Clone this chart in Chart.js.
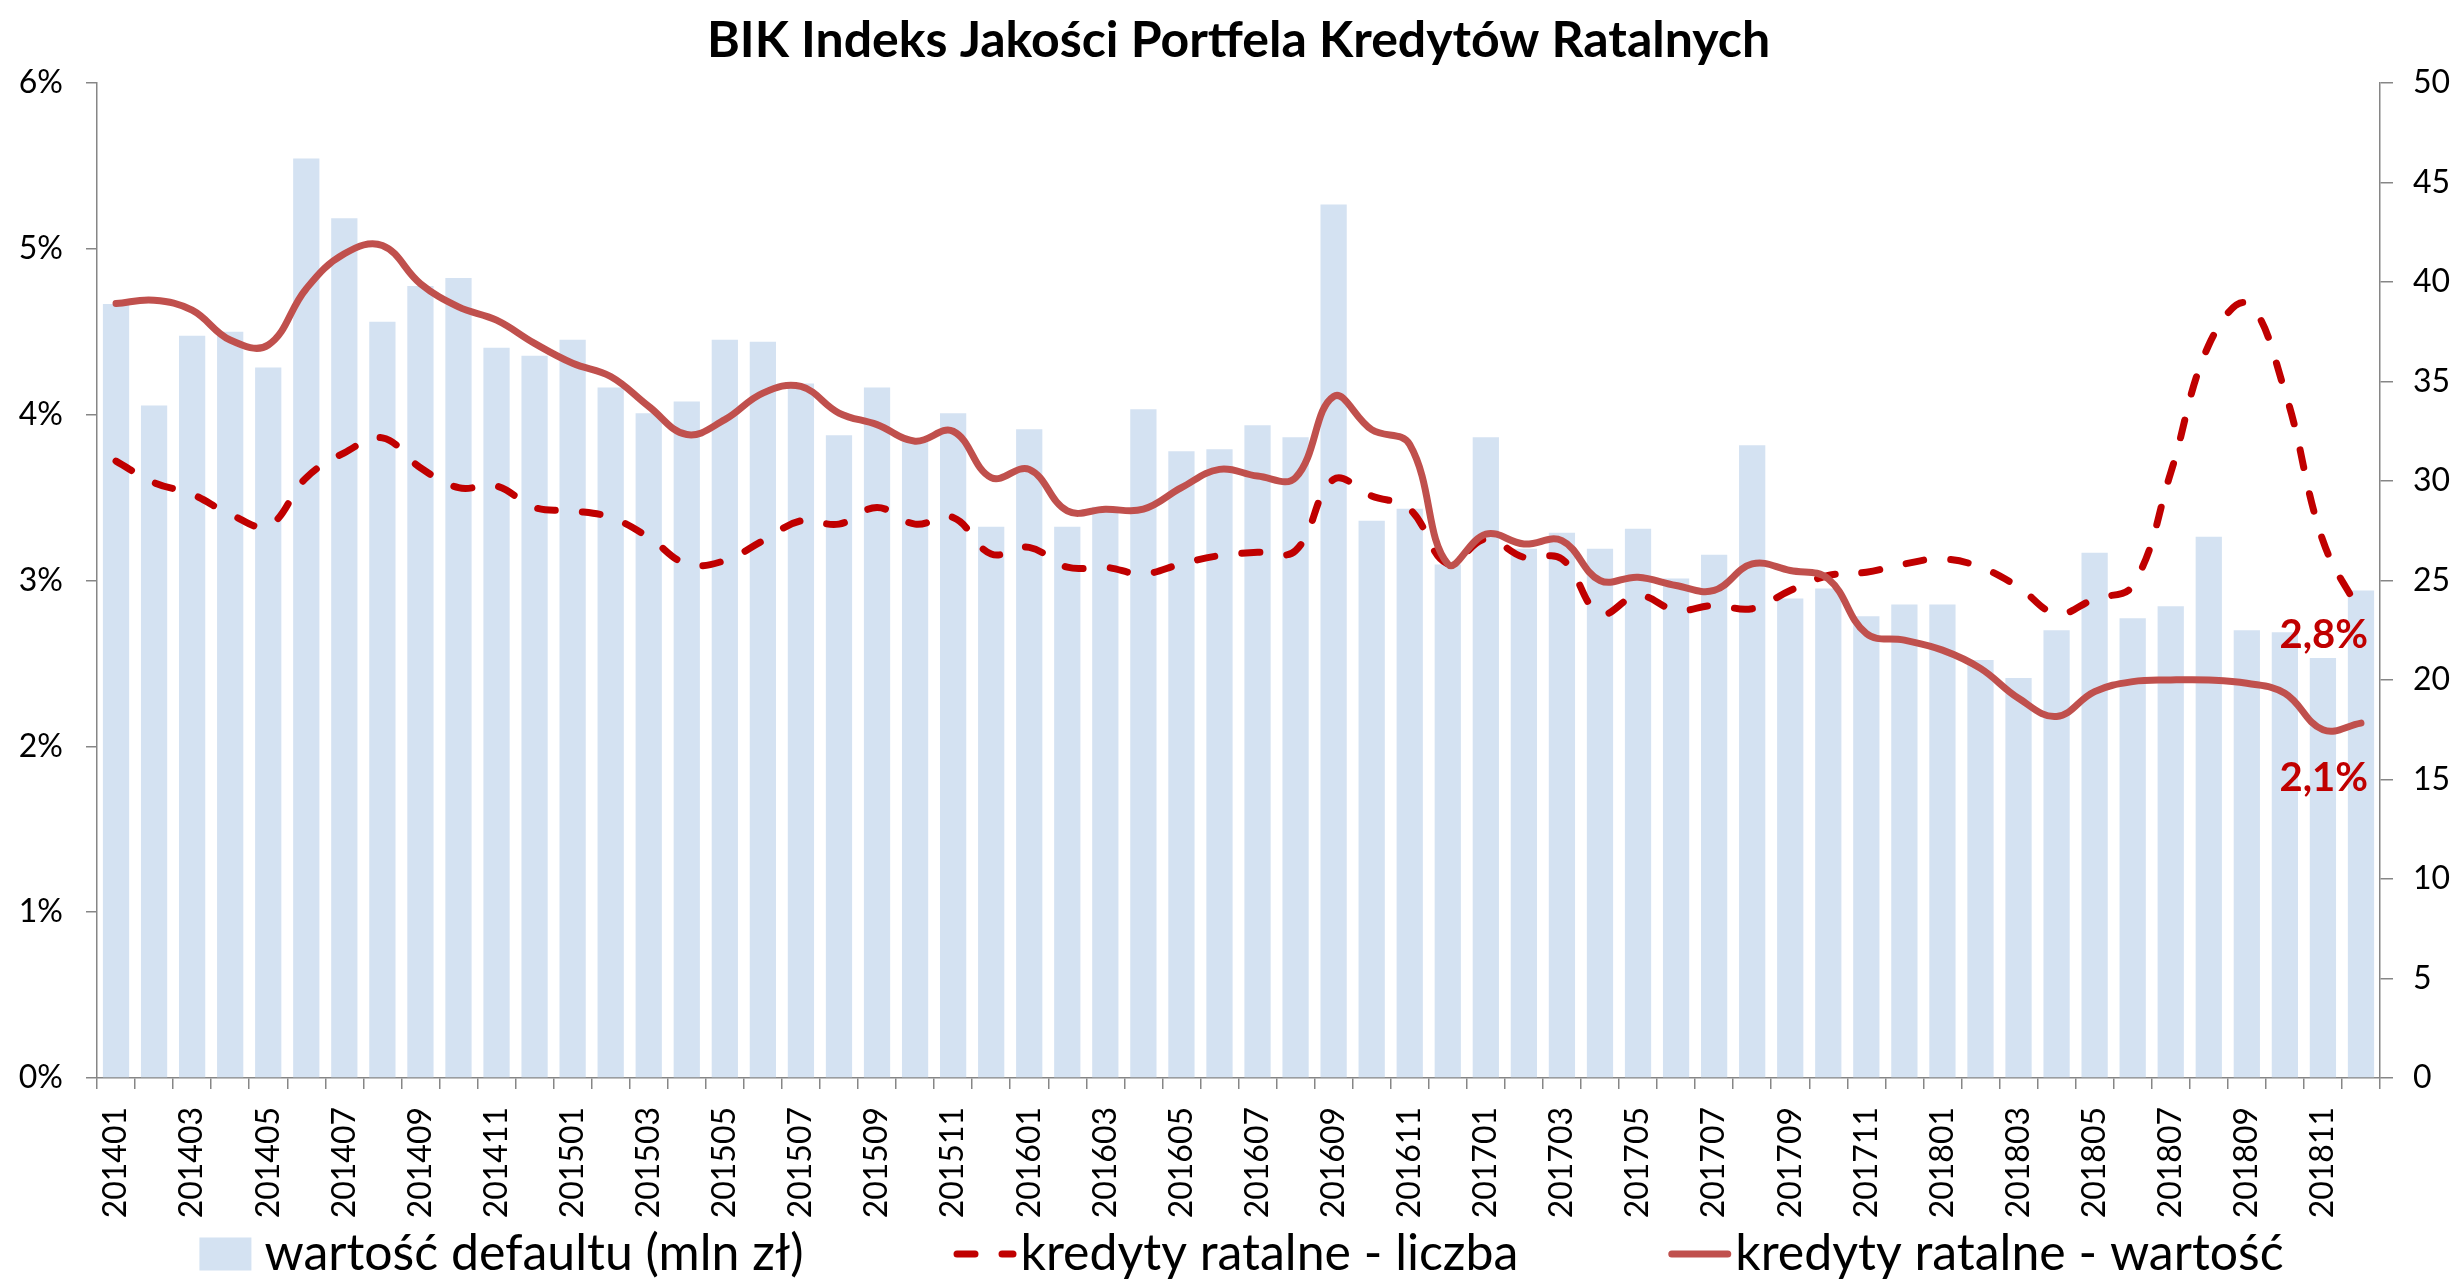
<!DOCTYPE html>
<html>
<head>
<meta charset="utf-8">
<script src="https://cdn.jsdelivr.net/npm/chart.js@4.4.1/dist/chart.umd.min.js"></script>
<style>
html,body{margin:0;padding:0;background:#fff;overflow:hidden}
canvas{display:block}
</style>
</head>
<body>
<canvas id="c" width="2461" height="1281"></canvas>
<script>
const titleText = 'BIK Indeks Jakości Portfela Kredytów Ratalnych';
const seriesNames = ['wartość defaultu (mln zł)', 'kredyty ratalne - liczba', 'kredyty ratalne - wartość'];

const categories = [
  '201401','201402','201403','201404','201405','201406','201407','201408','201409','201410','201411','201412',
  '201501','201502','201503','201504','201505','201506','201507','201508','201509','201510','201511','201512',
  '201601','201602','201603','201604','201605','201606','201607','201608','201609','201610','201611','201612',
  '201701','201702','201703','201704','201705','201706','201707','201708','201709','201710','201711','201712',
  '201801','201802','201803','201804','201805','201806','201807','201808','201809','201810','201811','201812'
];

// wartość defaultu (mln zł) – right axis
const defaultValue = [
  38.9, 33.8, 37.3, 37.5, 35.7, 46.2, 43.2, 38.0, 39.8, 40.2, 36.7, 36.3,
  37.1, 34.7, 33.4, 34.0, 37.1, 37.0, 34.9, 32.3, 34.7, 32.0, 33.4, 27.7,
  32.6, 27.7, 28.7, 33.6, 31.5, 31.6, 32.8, 32.2, 43.9, 28.0, 28.6, 25.8,
  32.2, 26.6, 27.4, 26.6, 27.6, 25.1, 26.3, 31.8, 24.1, 24.6, 23.2, 23.8,
  23.8, 21.0, 20.1, 22.5, 26.4, 23.1, 23.7, 27.2, 22.5, 22.4, 21.1, 24.5
];

// kredyty ratalne - liczba (%) – left axis
const countRate = [
  3.72, 3.59, 3.52, 3.40, 3.33, 3.62, 3.77, 3.86, 3.68, 3.56, 3.57, 3.44,
  3.42, 3.38, 3.26, 3.10, 3.12, 3.24, 3.36, 3.34, 3.44, 3.34, 3.38, 3.16,
  3.20, 3.08, 3.08, 3.04, 3.10, 3.15, 3.17, 3.18, 3.61, 3.51, 3.43, 3.10,
  3.25, 3.14, 3.13, 2.80, 2.91, 2.82, 2.85, 2.83, 2.94, 3.03, 3.05, 3.10,
  3.13, 3.08, 2.96, 2.80, 2.89, 2.97, 3.65, 4.42, 4.67, 4.14, 3.24, 2.80
];

// kredyty ratalne - wartość (%) – left axis
const amountRate = [
  4.67, 4.69, 4.63, 4.45, 4.42, 4.76, 4.97, 5.02, 4.79, 4.65, 4.57, 4.43,
  4.31, 4.23, 4.05, 3.88, 3.97, 4.13, 4.17, 4.01, 3.94, 3.84, 3.90, 3.62,
  3.67, 3.42, 3.43, 3.43, 3.56, 3.67, 3.63, 3.62, 4.11, 3.91, 3.82, 3.10,
  3.28, 3.22, 3.24, 3.00, 3.02, 2.97, 2.94, 3.10, 3.06, 3.01, 2.68, 2.64,
  2.58, 2.47, 2.29, 2.18, 2.33, 2.39, 2.40, 2.40, 2.38, 2.32, 2.10, 2.14
];

const leftTickMax = 6, leftTickStep = 1;
const rightTickMax = 50, rightTickStep = 5;

const FONT = 'Lato';
const AXIS_GRAY = '#868686';

// labels for the last value of the two line series
const endLabelPlugin = {
  id: 'endLabels',
  afterDatasetsDraw(chart) {
    const ctx = chart.ctx;
    chart.data.datasets.forEach((ds, i) => {
      if (!ds.endLabel) return;
      const meta = chart.getDatasetMeta(i);
      const pt = meta.data[meta.data.length - 1];
      const v = ds.data[ds.data.length - 1];
      ctx.save();
      ctx.font = 'bold 40px ' + FONT;
      ctx.fillStyle = '#C00000';
      ctx.textAlign = 'right';
      ctx.textBaseline = 'middle';
      ctx.fillText(v.toFixed(1).replace('.', ',') + '%', pt.x + ds.endLabel.dx, pt.y + ds.endLabel.dy);
      ctx.restore();
    });
  }
};

// Excel-like legend: symbols drawn from the datasets' own styles
const bottomLegendPlugin = {
  id: 'bottomLegend',
  afterDraw(chart, args, opts) {
    const ctx = chart.ctx;
    ctx.save();
    ctx.font = opts.fontSize + 'px ' + FONT;
    const items = chart.data.datasets.map((ds) => {
      const isBar = ds.type === 'bar';
      const symW = isBar ? opts.boxWidth : opts.lineWidth;
      const gap = isBar ? opts.boxGap : opts.lineGap;
      const textW = ctx.measureText(ds.label).width;
      return { ds, isBar, symW, gap, textW, w: symW + gap + textW };
    });
    const total = items.reduce((s, it) => s + it.w, 0) + opts.itemGap * (items.length - 1);
    const ca = chart.chartArea;
    let x = (ca.left + ca.right) / 2 + opts.shiftX - total / 2;
    const base = opts.baseline;
    const symY = base - opts.symbolRise;
    items.forEach((it) => {
      const ds = it.ds;
      if (it.isBar) {
        ctx.fillStyle = ds.backgroundColor;
        ctx.fillRect(x, symY - opts.boxHeight / 2, it.symW, opts.boxHeight);
      } else {
        ctx.save();
        ctx.beginPath();
        ctx.rect(x - 1, symY - 20, it.symW + 2, 40);
        ctx.clip();
        ctx.strokeStyle = ds.borderColor;
        ctx.lineWidth = ds.borderWidth;
        ctx.lineCap = ds.borderCapStyle || 'butt';
        ctx.setLineDash(ds.borderDash || []);
        ctx.beginPath();
        const cap = ds.borderCapStyle === 'round' ? ds.borderWidth / 2 : 0;
        ctx.moveTo(x + cap, symY);
        ctx.lineTo(x + it.symW - cap, symY);
        ctx.stroke();
        ctx.restore();
      }
      ctx.fillStyle = '#000';
      ctx.textAlign = 'left';
      ctx.textBaseline = 'alphabetic';
      ctx.fillText(ds.label, x + it.symW + it.gap, base);
      x += it.w + opts.itemGap;
    });
    ctx.restore();
  }
};

new Chart(document.getElementById('c'), {
  data: {
    labels: categories,
    datasets: [
      {
        type: 'bar',
        label: seriesNames[0],
        data: defaultValue,
        yAxisID: 'y2',
        backgroundColor: 'rgb(212,226,242)',
        borderWidth: 0,
        barPercentage: 0.69,
        categoryPercentage: 1.0,
        order: 3
      },
      {
        type: 'line',
        label: seriesNames[1],
        data: countRate,
        yAxisID: 'y',
        borderColor: '#C00000',
        backgroundColor: '#C00000',
        borderWidth: 7,
        borderDash: [18, 27],
        borderCapStyle: 'round',
        pointRadius: 0,
        pointHoverRadius: 0,
        tension: 0.4,
        fill: false,
        order: 2,
        endLabel: { dx: 7, dy: 21 }
      },
      {
        type: 'line',
        label: seriesNames[2],
        data: amountRate,
        yAxisID: 'y',
        borderColor: '#C0504D',
        backgroundColor: '#C0504D',
        borderWidth: 7,
        borderCapStyle: 'round',
        pointRadius: 0,
        pointHoverRadius: 0,
        tension: 0.4,
        fill: false,
        order: 1,
        endLabel: { dx: 7, dy: 55 }
      }
    ]
  },
  options: {
    responsive: false,
    animation: false,
    devicePixelRatio: 1,
    layout: { padding: { left: 0, right: 0, top: 0, bottom: 53 } },
    plugins: {
      title: {
        display: true,
        fullSize: false,
        text: titleText,
        color: '#000',
        font: { family: FONT, size: 50, weight: 'bold' },
        padding: { top: 11, bottom: 12 }
      },
      legend: { display: false },
      tooltip: { enabled: false },
      bottomLegend: {
        fontSize: 50,
        baseline: 1270,
        symbolRise: 16,
        boxWidth: 52,
        boxHeight: 33,
        boxGap: 13,
        lineWidth: 63,
        lineGap: 4,
        itemGap: 150,
        shiftX: 3
      }
    },
    scales: {
      x: {
        type: 'category',
        offset: true,
        grid: { offset: true, drawOnChartArea: false, drawTicks: true, tickLength: 11, color: AXIS_GRAY, lineWidth: 1.5 },
        border: { display: true, color: AXIS_GRAY, width: 1.5 },
        ticks: {
          autoSkip: false,
          minRotation: 90,
          maxRotation: 90,
          padding: 18,
          color: '#000',
          font: { family: FONT, size: 32 },
          callback: (v, i) => (i % 2 === 0 ? categories[i] : '')
        },
        afterFit: (s) => { s.height = 150; }
      },
      y: {
        position: 'left',
        min: 0,
        max: leftTickMax,
        grid: { drawOnChartArea: false, drawTicks: true, tickLength: 11, color: AXIS_GRAY, lineWidth: 1.5 },
        border: { display: true, color: AXIS_GRAY, width: 1.5 },
        ticks: {
          stepSize: leftTickStep,
          padding: 23,
          color: '#000',
          font: { family: FONT, size: 32 },
          callback: (v) => v + '%'
        },
        afterFit: (s) => { s.width = 97; }
      },
      y2: {
        position: 'right',
        min: 0,
        max: rightTickMax,
        grid: { drawOnChartArea: false, drawTicks: true, tickLength: 13, color: AXIS_GRAY, lineWidth: 1.5 },
        border: { display: true, color: AXIS_GRAY, width: 1.5 },
        ticks: {
          stepSize: rightTickStep,
          padding: 20,
          color: '#000',
          font: { family: FONT, size: 32 }
        },
        afterFit: (s) => { s.width = 81; }
      }
    }
  },
  plugins: [endLabelPlugin, bottomLegendPlugin]
});
</script>
</body>
</html>
